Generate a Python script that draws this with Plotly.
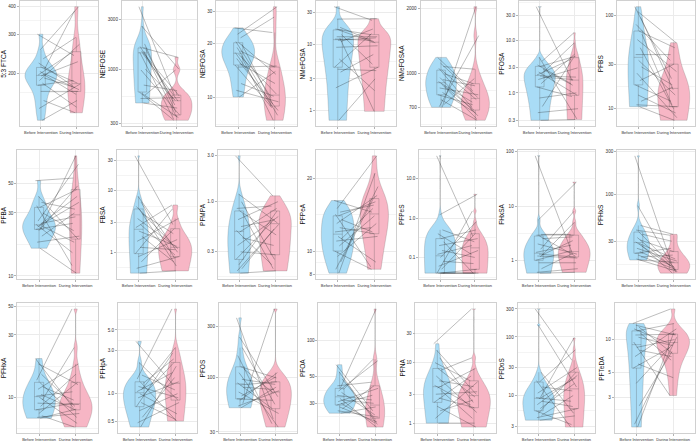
import numpy as np
import plotly.graph_objects as go

# ---------------- data ----------------
compounds = ["5:3 FTCA", "NEtFOSE", "NEtFOSA", "NMeFOSA", "NMeFOSAA", "PFOSA", "PFBS",
             "PFBA", "FBSA", "PFMPA", "PFPeA", "PFPeS", "FHxSA", "PFHxS",
             "PFHxA", "PFHpA", "PFOS", "PFOA", "PFNA", "PFDoS", "PFTeDA"]
groups = ["Before Intervention", "During Intervention"]

before_5_3_ftca = [300, 255, 232, 222, 212, 208, 203, 198, 196, 194, 190, 185, 180, 176, 165, 150, 138, 122]
during_5_3_ftca = [240, 400, 290, 175, 180, 382, 168, 160, 250, 225, 172, 270, 140, 185, 165, 132, 178, 150]
before_netfose = [4000, 2600, 1750, 1650, 1600, 1550, 1500, 1480, 1450, 1420, 1000, 980, 700, 600, 580, 560, 520, 470]
during_netfose = [560, 1000, 380, 510, 1300, 450, 550, 345, 330, 490, 500, 360, 620, 320, 340, 980, 530, 420]
before_netfosa = [24.4, 22.5, 21.5, 20.5, 20.2, 19.8, 19.0, 18.2, 17.8, 17.5, 17.0, 16.5, 15.5, 15.2, 14.8, 12.0, 11.0, 10.1]
during_netfosa = [23, 32, 28, 10.0, 13.5, 9.2, 8.0, 14.8, 9.0, 10.5, 7.5, 8.5, 12.0, 8.8, 15.0, 10.2, 9.5, 14]
before_nmefosa = [37, 24, 18, 17, 16.5, 14, 13, 12.5, 12, 11.5, 11, 9, 6, 4.5, 4.2, 3.8, 2.2, 0.71]
during_nmefosa = [23, 24.4, 11, 14, 10.5, 5.0, 13, 0.97, 11.5, 12.5, 17, 9.5, 2.0, 14.5, 4.0, 7, 4.5, 3.0]
before_nmefosaa = [1190, 1120, 1080, 1060, 1040, 1000, 960, 940, 920, 900, 880, 860, 820, 800, 760, 720, 705, 700]
during_nmefosaa = [830, 780, 1050, 700, 760, 900, 640, 880, 740, 620, 680, 800, 660, 720, 610, 950, 1500, 2040]
before_pfosa = [44, 4.8, 4.0, 3.4, 3.2, 2.8, 2.5, 2.3, 2.2, 2.1, 2.0, 1.8, 1.5, 1.3, 0.8, 0.55, 0.42, 0.3]
during_pfosa = [1.7, 0.32, 14, 1.5, 5.0, 1.4, 0.9, 9, 4.4, 2.0, 1.8, 3.0, 5.5, 0.85, 1.0, 4.7, 0.5, 0.31]
before_pfbs = [124, 110, 95, 80, 68, 63, 55, 45, 38, 33, 28, 24, 20, 18, 14, 12, 11, 10.5]
during_pfbs = [21, 51, 16, 33, 45, 11, 25, 10, 38, 14, 18, 8, 30, 12, 9, 17, 10.5, 7.5]

before_pfba = [52.6, 40, 36, 34, 33, 30, 26, 25, 24.5, 24.2, 23.8, 23.5, 23, 22.5, 22, 20, 18, 16.2]
during_pfba = [55, 19, 32, 12, 45, 22, 70, 28, 15, 40, 18, 36, 81, 25, 48, 30, 20, 10.5]
before_fbsa = [36, 8, 6.5, 5.5, 5.0, 4.2, 3.5, 2.8, 2.5, 2.2, 1.8, 1.5, 1.2, 0.95, 0.85, 0.7, 0.55, 0.46]
during_fbsa = [2.8, 1.0, 0.8, 1.4, 0.6, 2.0, 1.15, 0.9, 5.8, 1.25, 0.7, 3.5, 1.1, 5.0, 1.6, 2.4, 0.85, 0.5]
before_pfmpa = [3.0, 1.2, 1.0, 0.85, 0.8, 0.75, 0.65, 0.55, 0.5, 0.48, 0.42, 0.35, 0.3, 0.25, 0.22, 0.2, 0.19, 0.18]
during_pfmpa = [1.15, 0.6, 0.25, 0.9, 0.45, 0.2, 1.0, 0.65, 0.22, 0.85, 0.35, 0.7, 0.28, 0.62, 0.8, 0.52, 0.58, 0.19]
before_pfpea = [16.2, 15, 14.5, 14.2, 14.0, 13.5, 13, 12.5, 12.0, 11.5, 11.2, 11.0, 10.5, 10.0, 9.5, 9.0, 8.4, 8.1]
during_pfpea = [14.5, 24.8, 15.5, 8.6, 16, 12, 17, 11.8, 12.5, 9, 15, 11.5, 14, 8.4, 13, 16.5, 18.5, 21]
before_pfpes = [37.6, 1.2, 0.5, 0.4, 0.3, 0.25, 0.2, 0.15, 0.12, 0.1, 0.08, 0.06, 0.05, 0.04, 0.04, 0.04, 0.04, 0.04]
during_pfpes = [0.35, 4.0, 0.25, 0.12, 0.5, 0.04, 0.3, 0.1, 0.2, 0.8, 0.07, 0.15, 0.4, 1.5, 0.05, 0.04, 0.04, 0.04]
before_fhxsa = [84, 5.5, 3.0, 2.9, 2.8, 2.5, 2.0, 1.6, 1.4, 1.3, 1.25, 1.2, 1.15, 1.0, 0.9, 0.7, 0.6, 0.58]
during_fhxsa = [1.4, 27.6, 2.9, 3.0, 1.2, 2.7, 1.3, 8, 1.9, 1.15, 2.3, 1.1, 5.0, 1.5, 0.9, 1.35, 0.7, 0.6]
before_pfhxs = [270, 75, 45, 40, 38, 36, 33, 31, 29.5, 28.5, 27, 25, 23, 22, 21, 20, 19, 18.5]
during_pfhxs = [17, 13.5, 35.8, 35, 15, 30, 14, 23, 16, 19, 13.2, 18, 15.5, 25, 14.5, 21, 13.8, 17.5]

before_pfhxa = [19.8, 18, 15, 13.5, 13.0, 12, 11.5, 10.5, 10.2, 10.0, 9.5, 9.0, 8.5, 8.0, 7.5, 7.2, 7.0, 6.9]
during_pfhxa = [8.3, 12.5, 8.5, 47.5, 7.0, 9.5, 18, 8.0, 11, 6.3, 24, 8.8, 15, 9.0, 13, 5.9, 7.5, 8.1]
before_pfhpa = [3.75, 2.2, 1.6, 1.45, 1.35, 1.3, 1.2, 1.1, 1.05, 1.0, 0.95, 0.9, 0.8, 0.72, 0.65, 0.55, 0.48, 0.43]
during_pfhpa = [1.25, 0.85, 1.1, 8.5, 0.5, 2.4, 0.9, 3.2, 1.7, 0.6, 2.2, 1.35, 0.52, 2.8, 1.0, 1.5, 0.8, 2.0]
before_pfos = [365, 240, 190, 160, 125, 120, 110, 95, 88, 84, 80, 72, 66, 62, 60, 56, 53, 51]
during_pfos = [40, 65, 55, 36, 98, 70, 33.4, 85, 50, 90, 76, 45, 100, 60, 110, 444, 74, 80]
before_pfoa = [63, 55, 48, 42, 40, 39, 38, 37, 35, 33, 32, 31, 30, 29, 28, 27, 26, 24.8]
during_pfoa = [26, 20, 22.5, 45, 184, 70, 68, 24, 32, 19, 30, 40, 20.5, 35, 21, 42, 23, 28]
before_pfna = [20.5, 16, 12, 10, 8, 7.5, 6, 5, 4.2, 3.8, 3.5, 3.0, 2.6, 2.2, 1.9, 1.6, 1.2, 1.0]
during_pfna = [77, 3.0, 2.2, 5, 2.7, 12, 1.5, 4, 2.0, 8, 1.2, 3.3, 1.8, 6, 0.86, 2.4, 4.8, 1.0]
before_pfdos = [300, 160, 25, 18, 17, 14, 11, 9.5, 9.2, 8.8, 8, 7, 6, 5.5, 5, 4.6, 4.2, 3.8]
during_pfdos = [40, 14, 5, 2.9, 60, 12, 30, 96, 8, 20, 6.5, 22, 16, 3.2, 25, 10, 6, 4.5]
before_pfteda = [14, 13.5, 13, 12.5, 12, 11.5, 11, 10.5, 9.5, 8.5, 8, 7, 6, 5.5, 4.0, 2.5, 1.7, 1.6]
during_pfteda = [19, 11, 7.5, 9.2, 14, 6.5, 11.2, 8.8, 3.1, 10, 7, 12.5, 4.5, 8.5, 9.6, 7.8, 10.5, 11.5]

before_all = [before_5_3_ftca, before_netfose, before_netfosa, before_nmefosa, before_nmefosaa, before_pfosa, before_pfbs,
              before_pfba, before_fbsa, before_pfmpa, before_pfpea, before_pfpes, before_fhxsa, before_pfhxs,
              before_pfhxa, before_pfhpa, before_pfos, before_pfoa, before_pfna, before_pfdos, before_pfteda]
during_all = [during_5_3_ftca, during_netfose, during_netfosa, during_nmefosa, during_nmefosaa, during_pfosa, during_pfbs,
              during_pfba, during_fbsa, during_pfmpa, during_pfpea, during_pfpes, during_fhxsa, during_pfhxs,
              during_pfhxa, during_pfhpa, during_pfos, during_pfoa, during_pfna, during_pfdos, during_pfteda]

tick_vals = [[200, 300, 400], [300, 1000, 3000], [10, 20, 30], [1, 3, 10, 30], [700, 1000, 2000],
             [0.3, 1, 3, 10, 30], [10, 30, 100],
             [10, 30, 50], [1, 3, 10, 30], [0.3, 1, 3], [8, 10, 20], [0.1, 1, 10], [1, 10, 100], [30, 100, 300],
             [10, 30, 50], [0.5, 1, 3, 5], [30, 100, 300], [30, 50, 100], [1, 3, 10, 30], [3, 10, 30, 100, 300],
             [3, 5, 10]]
tick_text = [["200", "300", "400"], ["300", "1000", "3000"], ["10", "20", "30"], ["1", "3", "10", "30"],
             ["700", "1000", "2000"], ["0.3", "1.0", "3.0", "10.0", "30.0"], ["10", "30", "100"],
             ["10", "30", "50"], ["1", "3", "10", "30"], ["0.3", "1.0", "3.0"], ["8", "10", "20"],
             ["0.1", "1.0", "10.0"], ["1", "10", "100"], ["30", "100", "300"],
             ["10", "30", "50"], ["0.5", "1.0", "3.0", "5.0"], ["30", "100", "300"], ["30", "50", "100"],
             ["1", "3", "10", "30"], ["3", "10", "30", "100", "300"], ["3", "5", "10"]]

# ---------------- layout geometry (pixels) ----------------
W, H = 697, 441
row_px = [(1, 126), (150, 279), (303, 433)]
cell_w = W / 7
TICK_SIZE = 4.6
XTICK_SIZE = 4.0
TITLE_SIZE = 6.5

BLUE = "#A9DCF6"
PINK = "#F7B6C5"
FONT = "Liberation Sans, Arial, sans-serif"


def label_width(labels, size):
    return max(sum(0.278 if ch == "." else 0.556 for ch in s) for s in labels) * size


def kde_max(vals):
    x = np.log10(np.asarray(vals, float))
    n = len(x)
    sd = x.std(ddof=1)
    q75, q25 = np.percentile(x, [75, 25])
    bw = 0.9 * min(sd, (q75 - q25) / 1.34) * n ** -0.2
    if bw <= 0:
        bw = 0.9 * sd * n ** -0.2
    g = np.linspace(x.min(), x.max(), 512)
    d = np.exp(-0.5 * ((g[:, None] - x[None, :]) / bw) ** 2).sum(1) / (n * bw * np.sqrt(2 * np.pi))
    return d.max()


fig = go.Figure()
layout = dict(width=W, height=H, margin=dict(l=0, r=0, t=0, b=0, pad=0, autoexpand=False),
              paper_bgcolor="white", plot_bgcolor="white", showlegend=False,
              violinmode="overlay", boxmode="overlay",
              font=dict(family=FONT, size=5, color="#333333"))
annotations = []

for k in range(21):
    r, c = divmod(k, 7)
    ax = "" if k == 0 else str(k + 1)
    xa, ya = "x" + ax, "y" + ax
    b = before_all[k]
    d = during_all[k]
    n = len(b)
    db, dd = kde_max(b), kde_max(d)
    m = max(db, dd)
    widths = [0.9 * db / m, 0.9 * dd / m]
    for gi, (vals, col) in enumerate([(b, BLUE), (d, PINK)]):
        fig.add_trace(go.Violin(x=[gi + 1] * n, y=vals, xaxis=xa, yaxis=ya, width=widths[gi],
                                scalemode="width", spanmode="hard", side="both", points=False,
                                fillcolor=col, opacity=1, line=dict(color="rgba(90,90,90,0.45)", width=0.5),
                                box_visible=False, meanline_visible=False, hoverinfo="skip"))
        fig.add_trace(go.Box(x=[gi + 1] * n, y=vals, xaxis=xa, yaxis=ya, width=0.25,
                             boxpoints="outliers", marker=dict(opacity=0, size=1),
                             fillcolor="rgba(0,0,0,0)", line=dict(color="rgba(70,70,70,0.5)", width=0.5),
                             whiskerwidth=0, quartilemethod="linear", hoverinfo="skip"))
    # paired lines
    lx, ly = [], []
    for i in range(n):
        ob = (((i * 7) % n) / (n - 1) - 0.5) * 0.2
        od = (((i * 11 + 3) % n) / (n - 1) - 0.5) * 0.2
        lx += [1 + ob, 2 + od, None]
        ly += [b[i], d[i], None]
    fig.add_trace(go.Scatter(x=lx, y=ly, xaxis=xa, yaxis=ya, mode="lines",
                             line=dict(color="rgba(35,35,35,0.6)", width=0.5), hoverinfo="skip"))

    allv = np.log10(np.array(b + d, float))
    lo, hi = allv.min(), allv.max()
    pad = 0.05 * (hi - lo)
    tv = tick_vals[k]
    ltv = np.log10(tv)
    minor = [10 ** ((ltv[i] + ltv[i + 1]) / 2) for i in range(len(ltv) - 1)]
    step0 = ltv[1] - ltv[0]
    step1 = ltv[-1] - ltv[-2]
    minor = [10 ** (ltv[0] - step0 / 2)] + minor + [10 ** (ltv[-1] + step1 / 2)]

    cell_left = c * cell_w
    x0 = cell_left + 12 + label_width(tick_text[k], TICK_SIZE)
    x1 = (c + 1) * cell_w - 2
    y0, y1 = row_px[r]
    layout["xaxis" + ax] = dict(domain=[x0 / W, x1 / W], anchor=ya, range=[0.4, 2.6], automargin=False,
                                tickvals=[1, 2], ticktext=groups, tickangle=0, showgrid=True,
                                gridcolor="#ebebeb", gridwidth=0.6, zeroline=False, showline=True,
                                mirror=True, linecolor="#d0d0d0", linewidth=0.8, ticks="outside",
                                ticklen=2, tickcolor="#b3b3b3", tickwidth=0.5,
                                tickfont=dict(size=XTICK_SIZE, color="#333333", family=FONT))
    layout["yaxis" + ax] = dict(domain=[1 - y1 / H, 1 - y0 / H], anchor=xa, type="log", automargin=False,
                                range=[lo - pad, hi + pad], tickvals=tv, ticktext=tick_text[k],
                                showgrid=True, gridcolor="#ebebeb", gridwidth=0.6, zeroline=False,
                                showline=True, mirror=True, linecolor="#d0d0d0", linewidth=0.8,
                                ticks="outside", ticklen=2, tickcolor="#b3b3b3", tickwidth=0.5,
                                minor=dict(tickvals=minor, showgrid=True, gridcolor="#f4f4f4",
                                           gridwidth=0.4, ticks=""),
                                tickfont=dict(size=TICK_SIZE, color="#333333", family=FONT))
    annotations.append(dict(text=compounds[k], xref="paper", yref="paper",
                            x=(cell_left + 3.3) / W, y=1 - (y0 + y1) / 2 / H,
                            xanchor="center", yanchor="middle", textangle=-90, showarrow=False,
                            font=dict(size=TITLE_SIZE, color="#111111", family=FONT)))

layout["annotations"] = annotations
fig.update_layout(**layout)
fig.write_html("out.html", config={"displayModeBar": False},
               post_script="document.body.style.margin='0px';document.body.style.overflow='hidden';")
